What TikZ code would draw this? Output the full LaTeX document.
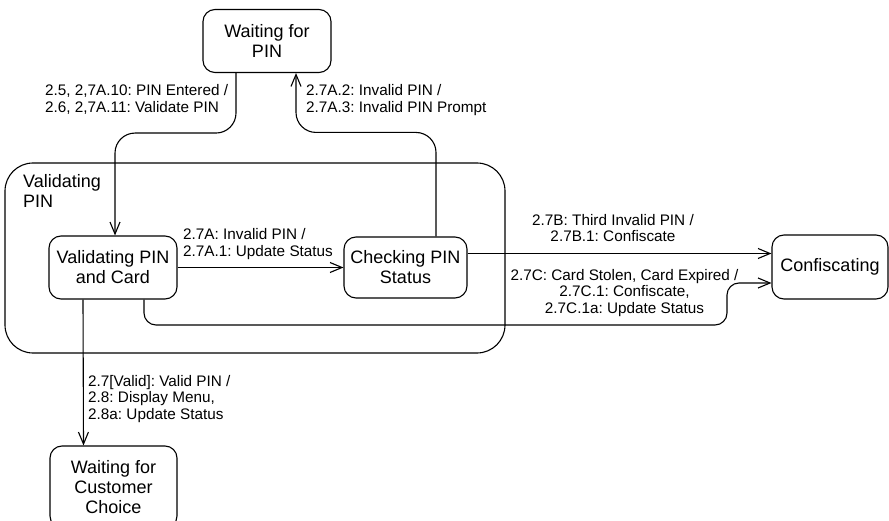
\documentclass[tikz,border=0pt]{standalone}
\usepackage{fontspec}
\setmainfont{Liberation Sans}
\frenchspacing
\usetikzlibrary{
    arrows.meta,
    positioning,
    calc
}

\begin{document}
\begin{tikzpicture}[
        x=1pt, y=-1pt,
        state/.style={draw, rounded corners=12pt, line width=1.1pt, align=center, inner sep=0pt, font=\fontsize{18}{20}\selectfont},
        superstate/.style={draw, rounded corners=28pt, line width=1.1pt, inner sep=0pt},
        trans/.style={-{Straight Barb[length=12pt, width=10pt]}, line width=1.1pt},
        translabel/.style={inner sep=0pt, font=\fontsize{15.3}{16.5}\selectfont},
    ]
        \useasboundingbox (0,0) rectangle (889,521);

        % Composite state
        \node[superstate, minimum width=500pt, minimum height=190pt] (vpin) at (255,258) {};
        \node[anchor=west, align=left, inner sep=0pt, font=\fontsize{18}{20}\selectfont] (vpintitle) at (23,191) {Validating\\PIN};

        % States
        \node[state, minimum width=128pt, minimum height=63pt] (wpin) at (267,41) {Waiting for\\PIN};
        \node[state, minimum width=128pt, minimum height=63pt] (vpc) at (113,267.5) {Validating PIN\\and Card};
        \node[state, minimum width=123pt, minimum height=61pt] (cps) at (405.5,267.5) {Checking PIN\\Status};
        \node[state, minimum width=116pt, minimum height=64pt] (conf) at (830,267) {Confiscating};
        \node[state, minimum width=127pt, minimum height=82pt] (wcc) at (113.5,487) {Waiting for\\Customer\\Choice};

        % Transitions
        \draw[trans, rounded corners=20pt] ([xshift=-31pt]wpin.south) -- ++(0,60) -| ([xshift=2pt]vpc.north);
        \draw[trans, rounded corners=20pt] ([xshift=30.5pt]cps.north) -- ++(0,-104) -| ([xshift=29pt]wpin.south);
        \draw[trans] (vpc.east) -- (vpc.east -| cps.west);
        \draw[trans] ([yshift=14pt]cps.east) -- ([yshift=14pt]cps.east -| conf.west);
        \draw[trans, rounded corners=12pt] ([xshift=31pt]vpc.south) |- (727,325) |- ([yshift=-16pt]conf.west);
        \draw[trans] ([xshift=-30pt]vpc.south) -- ([xshift=-30pt]wcc.north);

        % Transition labels
        \node[translabel, anchor=west, align=left] (lblentered) at (45,99.5) {2.5, 2,7A.10: PIN Entered /\\2.6, 2,7A.11: Validate PIN};
        \node[translabel, anchor=west, align=left] (lblprompt) at (306,100) {2.7A.2: Invalid PIN /\\2.7A.3: Invalid PIN Prompt};
        \node[translabel, anchor=west, align=left] (lblinvalid) at (183,244) {2.7A: Invalid PIN /\\2.7A.1: Update Status};
        \node[translabel, align=center] (lblthird) at (613,228) {2.7B: Third Invalid PIN /\\2.7B.1: Confiscate};
        \node[translabel, align=center] (lblstolen) at (624.5,293) {2.7C: Card Stolen, Card Expired /\\2.7C.1: Confiscate,\\2.7C.1a: Update Status};
        \node[translabel, anchor=west, align=left] (lblvalid) at (88,399) {2.7[Valid]: Valid PIN /\\2.8: Display Menu,\\2.8a: Update Status};
    \end{tikzpicture}
\end{document}
